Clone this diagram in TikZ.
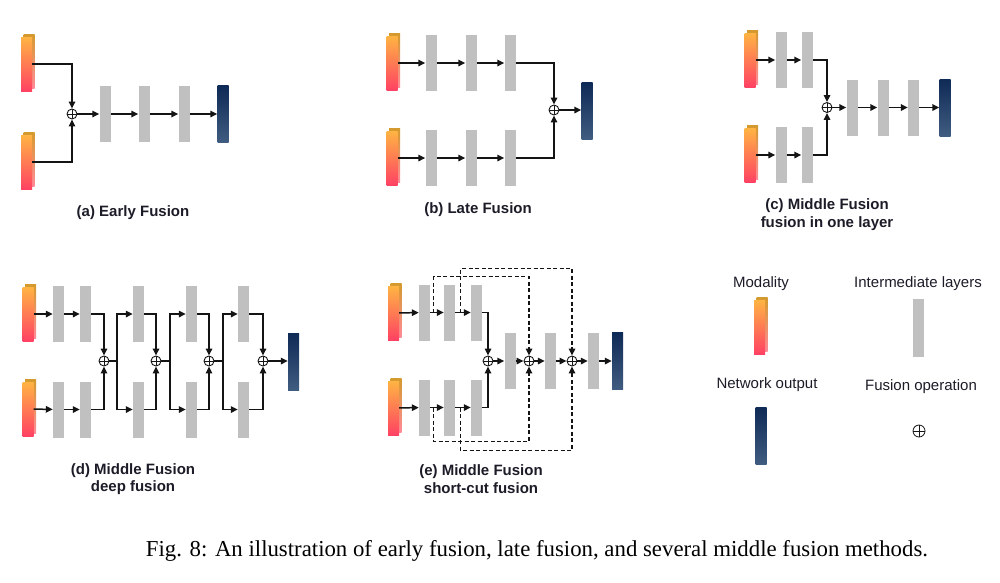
\documentclass[tikz,border=0pt]{standalone}
\usepackage{fontspec}
\setmainfont{Liberation Serif}
\setsansfont{Liberation Sans}
\usepackage{xcolor}
\definecolor{cModTop}{HTML}{FFB443}
\definecolor{cModBot}{HTML}{FF4263}
\definecolor{cModEdge}{HTML}{D49A2E}
\definecolor{cModSide}{HTML}{FF8A98}
\definecolor{cLayer}{HTML}{C0C0C0}
\definecolor{cOutTop}{HTML}{0E2A56}
\definecolor{cOutBot}{HTML}{405C80}
\definecolor{cLine}{HTML}{141414}
\definecolor{cText}{HTML}{1C1C28}
\usepackage{tikz}
\usetikzlibrary{positioning,arrows.meta,calc,shadows}
\tikzset{
  node-mod/.style={rectangle,inner sep=0pt,minimum width=11pt,minimum height=54pt,
    top color=cModTop,bottom color=cModBot,
    general shadow={shadow xshift=2.5pt,shadow yshift=2.5pt,top color=cModEdge,bottom color=cModSide}},
  node-layer/.style={rectangle,inner sep=0pt,fill=cLayer,minimum width=11pt,minimum height=56pt},
  node-out/.style={rectangle,inner sep=0pt,minimum width=11pt,minimum height=57pt,
    top color=cOutTop,bottom color=cOutBot},
  node-fuse/.style={circle,draw=cLine,line width=0.9pt,inner sep=0pt,minimum size=10pt,
    path picture={\draw[line width=0.9pt,cLine]
      (path picture bounding box.north) -- (path picture bounding box.south)
      (path picture bounding box.west) -- (path picture bounding box.east);}},
  arrow/.style={-{Triangle[length=7pt,width=6.5pt]},line width=1.5pt,draw=cLine},
  arrow-cut/.style={arrow,dash pattern=on 4pt off 2.5pt},
  line/.style={line width=1.5pt,draw=cLine},
  sub-cap/.style={font=\sffamily\bfseries\fontsize{15}{17.5}\selectfont,align=center,text=cText},
  leg-text/.style={font=\sffamily\fontsize{15}{18}\selectfont,text=cText},
}

\begin{document}
\begin{tikzpicture}[x=1pt,y=-1pt]
  \useasboundingbox (0,0) rectangle (1000,582);

  % (a) early fusion
  \node[node-mod] (ma1) at (26.5,64) {};
  \node[node-mod] (ma2) at (26.5,162) {};
  \node[node-fuse] (fa) at (72,114) {};
  \foreach \name/\x in {a1/105, a2/144, a3/184} {
    \node[node-layer] (\name) at (\x,114) {};
  }
  \node[node-out] (ao) at (223,114) {};
  \draw[arrow] (ma1.east) -| (fa.north);
  \draw[arrow] (ma2.east) -| (fa.south);
  \foreach \a/\b in {fa/a1, a1/a2, a2/a3, a3/ao} \draw[arrow] (\a) -- (\b);
  \node[sub-cap] (capa) at (133,213) {(a) Early Fusion};

  % (b) late fusion
  \node[node-mod] (mb1) at (392,63) {};
  \node[node-mod] (mb2) at (392,158) {};
  \foreach \name/\x in {1/431, 2/471, 3/510} {
    \node[node-layer] (bt\name) at (\x,63) {};
    \node[node-layer] (bb\name) at (\x,158) {};
  }
  \node[node-fuse] (fb) at (554,110) {};
  \node[node-out] (bo) at (587,111) {};
  \foreach \a/\b in {mb1/bt1, bt1/bt2, bt2/bt3, mb2/bb1, bb1/bb2, bb2/bb3}
    \draw[arrow] (\a) -- (\b);
  \draw[arrow] (bt3.east) -| (fb.north);
  \draw[arrow] (bb3.east) -| (fb.south);
  \draw[arrow] (fb) -- (fb -| bo.west);
  \node[sub-cap] (capb) at (478,210) {(b) Late Fusion};

  % (c) middle fusion, one layer
  \node[node-mod] (mc1) at (750,60) {};
  \node[node-mod] (mc2) at (750,155) {};
  \foreach \name/\x in {1/781, 2/807} {
    \node[node-layer] (ct\name) at (\x,60) {};
    \node[node-layer] (cb\name) at (\x,155) {};
  }
  \node[node-fuse] (fc) at (827,107.5) {};
  \foreach \name/\x in {c3/852, c4/883, c5/913.5} {
    \node[node-layer] (\name) at (\x,107.5) {};
  }
  \node[node-out] (co) at (945,107.5) {};
  \foreach \a/\b in {mc1/ct1, ct1/ct2, mc2/cb1, cb1/cb2, fc/c3, c3/c4, c4/c5, c5/co}
    \draw[arrow] (\a) -- (\b);
  \draw[arrow] (ct2.east) -| (fc.north);
  \draw[arrow] (cb2.east) -| (fc.south);
  \node[sub-cap] (capc) at (827,214.5) {(c) Middle Fusion\\fusion in one layer};

  % (d) middle fusion, deep
  \node[node-mod] (md1) at (28,314) {};
  \node[node-mod] (md2) at (28,409) {};
  \foreach \name/\x in {1/58.5, 2/85.5, 3/138.5, 4/191.5, 5/243.5} {
    \node[node-layer] (dt\name) at (\x,314) {};
    \node[node-layer] (db\name) at (\x,409.5) {};
  }
  \foreach \name/\x in {1/104, 2/156, 3/209, 4/263} {
    \node[node-fuse] (fd\name) at (\x,361) {};
  }
  \foreach \name/\x in {1/117, 2/170, 3/223} {
    \coordinate (sd\name) at (\x,361);
  }
  \node[node-out] (do) at (293.5,361.5) {};
  \foreach \a/\b in {md1/dt1, dt1/dt2, md2/db1, db1/db2} \draw[arrow] (\a) -- (\b);
  \foreach \t/\f in {2/1, 3/2, 4/3, 5/4} {
    \draw[arrow] (dt\t.east) -| (fd\f.north);
    \draw[arrow] (db\t.east) -| (fd\f.south);
  }
  \foreach \f/\t in {1/3, 2/4, 3/5} {
    \draw[line] (fd\f.east) -- (sd\f);
    \draw[arrow] (sd\f) |- (dt\t.west);
    \draw[arrow] (sd\f) |- (db\t.west);
  }
  \draw[arrow] (fd4) -- (fd4 -| do.west);
  \node[sub-cap] (capd) at (133,479) {(d) Middle Fusion\\deep fusion};

  % (e) middle fusion, short-cut
  \node[node-mod] (me1) at (393.5,313) {};
  \node[node-mod] (me2) at (393.5,408) {};
  \foreach \name/\x in {1/424.5, 2/449.5, 3/476.5} {
    \node[node-layer] (et\name) at (\x,312.5) {};
    \node[node-layer] (eb\name) at (\x,407.5) {};
  }
  \node[node-fuse] (fe1) at (488,361) {};
  \node[node-layer] (e4) at (510,361) {};
  \node[node-fuse] (fe2) at (529,361) {};
  \node[node-layer] (e5) at (550.5,361) {};
  \node[node-fuse] (fe3) at (572,361) {};
  \node[node-layer] (e6) at (593.5,361) {};
  \node[node-out] (eo) at (617.5,361) {};
  \draw[arrow] (me1) -- (et1);
  \draw[arrow] (me2) -- (eb1);
  \draw[arrow] (et1) -- coordinate[pos=0.25] (st1) (et2);
  \draw[arrow] (et2) -- coordinate[pos=0.35] (st2) (et3);
  \draw[arrow] (eb1) -- coordinate[pos=0.25] (sb1) (eb2);
  \draw[arrow] (eb2) -- coordinate[pos=0.35] (sb2) (eb3);
  \draw[arrow] (et3.east) -| (fe1.north);
  \draw[arrow] (eb3.east) -| (fe1.south);
  \foreach \a/\b in {fe1/e4, e4/fe2, fe2/e5, e5/fe3, fe3/e6, e6/eo} \draw[arrow] (\a) -- (\b);
  \draw[arrow-cut] (st1) -- ++(0,-36) -| (fe2.north);
  \draw[arrow-cut] (sb1) -- ++(0,34) -| (fe2.south);
  \draw[arrow-cut] (st2) -- ++(0,-44) -| (fe3.north);
  \draw[arrow-cut] (sb2) -- ++(0,43) -| (fe3.south);
  \node[sub-cap] (cape) at (481,479) {(e) Middle Fusion\\short-cut fusion};

  % legend
  \node[leg-text] (lmod) at (761,284) {Modality};
  \node[node-mod] (kmod) at (759.5,327) {};
  \node[leg-text] (llay) at (918,284) {Intermediate layers};
  \node[node-layer,minimum height=58pt] (klay) at (918.5,328) {};
  \node[leg-text] (lout) at (767,385) {Network output};
  \node[node-out] (kout) at (761,435.5) {};
  \node[leg-text] (lfus) at (921,387) {Fusion operation};
  \node[node-fuse,minimum size=12pt,line width=0.8pt] (kfus) at (919,431) {};

  % caption
  \node[font=\fontsize{22.8}{26}\selectfont] (fig) at (537,551)
    {Fig. 8: An illustration of early fusion, late fusion, and several middle fusion methods.};
\end{tikzpicture}
\end{document}
